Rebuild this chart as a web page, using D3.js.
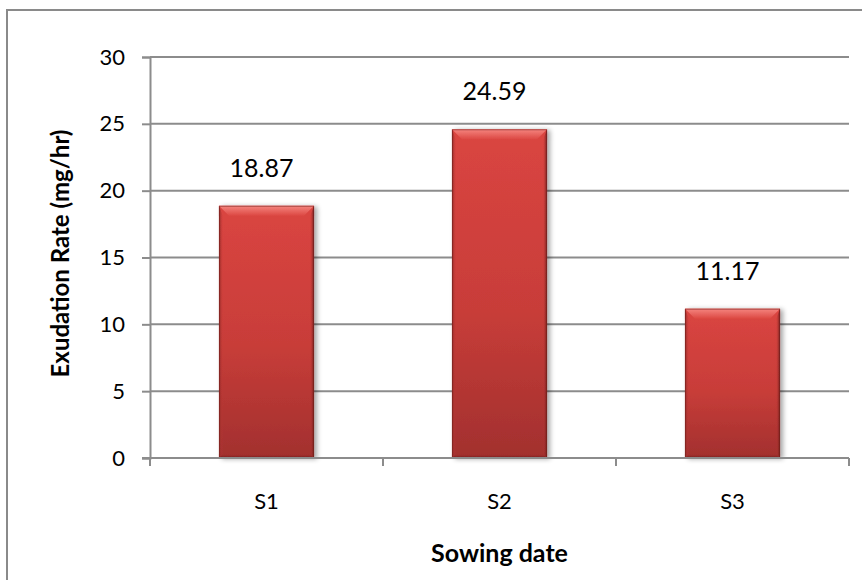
<!DOCTYPE html>
<html>
<head>
<meta charset="utf-8">
<script src="https://cdn.jsdelivr.net/npm/d3@7"></script>
<style>
  html, body { margin: 0; padding: 0; background: #fff; }
  svg { display: block; font-family: Lato, "Open Sans", sans-serif; }
</style>
</head>
<body>
<svg id="chart" width="862" height="580"></svg>
<script>
// Exudation rate by sowing date
const categories = ["S1", "S2", "S3"];
const values = [18.87, 24.59, 11.17];
const yTicks = [0, 5, 10, 15, 20, 25, 30];
const valueLabels = ["18.87", "24.59", "11.17"];

const svg = d3.select("#chart");
const W = 862, H = 580;
const plot = { left: 150, right: 849, top: 57, bottom: 458 };

// chart frame (runs past the right and bottom edges)
svg.append("rect")
  .attr("x", 7).attr("y", 10)
  .attr("width", W + 20).attr("height", H + 20)
  .attr("fill", "#fff").attr("stroke", "#8a8a8a").attr("stroke-width", 2);

const y = d3.scaleLinear().domain([0, 30]).range([plot.bottom, plot.top]);
const x = d3.scaleBand().domain(categories)
  .range([plot.left, plot.right])
  .paddingInner(0.592).paddingOuter(0.296);
const xEdge = d3.scaleLinear().domain([0, categories.length]).range([plot.left, plot.right]);

const defs = svg.append("defs");
const body = defs.append("linearGradient").attr("id", "barBody")
  .attr("x1", 0).attr("y1", 0).attr("x2", 0).attr("y2", 1);
body.append("stop").attr("offset", "0%").attr("stop-color", "#da4541");
body.append("stop").attr("offset", "55%").attr("stop-color", "#c83d39");
body.append("stop").attr("offset", "100%").attr("stop-color", "#a2302e");

const topBevel = defs.append("linearGradient").attr("id", "topBevel")
  .attr("x1", 0).attr("y1", 0).attr("x2", 0).attr("y2", 1);
topBevel.append("stop").attr("offset", "0%").attr("stop-color", "#f5857f");
topBevel.append("stop").attr("offset", "100%").attr("stop-color", "#dc4843");

const sideL = defs.append("linearGradient").attr("id", "sideL")
  .attr("x1", 0).attr("y1", 0).attr("x2", 1).attr("y2", 0);
sideL.append("stop").attr("offset", "0%").attr("stop-color", "#8e2826");
sideL.append("stop").attr("offset", "100%").attr("stop-color", "#c23b37").attr("stop-opacity", 0);
const sideR = defs.append("linearGradient").attr("id", "sideR")
  .attr("x1", 1).attr("y1", 0).attr("x2", 0).attr("y2", 0);
sideR.append("stop").attr("offset", "0%").attr("stop-color", "#6a1b1a");
sideR.append("stop").attr("offset", "100%").attr("stop-color", "#b83835").attr("stop-opacity", 0);
const botBevel = defs.append("linearGradient").attr("id", "botBevel")
  .attr("x1", 0).attr("y1", 1).attr("x2", 0).attr("y2", 0);
botBevel.append("stop").attr("offset", "0%").attr("stop-color", "#6a1b1a");
botBevel.append("stop").attr("offset", "100%").attr("stop-color", "#a53130").attr("stop-opacity", 0);

const shadow = defs.append("filter").attr("id", "barShadow")
  .attr("x", "-20%").attr("y", "-10%").attr("width", "140%").attr("height", "120%");
shadow.append("feGaussianBlur").attr("in", "SourceAlpha").attr("stdDeviation", 2.5).attr("result", "b");
shadow.append("feOffset").attr("in", "b").attr("dx", 3).attr("dy", 1).attr("result", "o");
shadow.append("feComponentTransfer").attr("in", "o").attr("result", "s")
  .append("feFuncA").attr("type", "linear").attr("slope", 0.35);
const merge = shadow.append("feMerge");
merge.append("feMergeNode").attr("in", "s");
merge.append("feMergeNode").attr("in", "SourceGraphic");

// horizontal gridlines
svg.append("g").selectAll("line").data(yTicks.filter(d => d > 0)).join("line")
  .attr("x1", plot.left).attr("x2", plot.right)
  .attr("y1", d => y(d)).attr("y2", d => y(d))
  .attr("stroke", "#8c8c8c").attr("stroke-width", 2);

// y axis
const yAxis = svg.append("g").attr("transform", `translate(${plot.left},0)`)
  .call(d3.axisLeft(y).tickValues(yTicks).tickSize(8).tickPadding(17).tickFormat(d3.format("d")));
yAxis.select(".domain").attr("stroke", "#8c8c8c").attr("stroke-width", 2);
yAxis.selectAll(".tick line").attr("stroke", "#8c8c8c").attr("stroke-width", 2);
yAxis.selectAll("text").attr("font-size", 22).attr("fill", "#000")
  .attr("font-family", "Lato, 'Open Sans', sans-serif");

// bars
const bars = svg.append("g").selectAll("g").data(values).join("g")
  .attr("filter", "url(#barShadow)");
bars.each(function (v, i) {
  const g = d3.select(this);
  const x0 = x(categories[i]), w = x.bandwidth();
  const y0 = y(v), h = y(0) - y(v);
  const bv = 10, sv = 4;
  g.append("rect").attr("x", x0).attr("y", y0).attr("width", w).attr("height", h)
    .attr("fill", "url(#barBody)");
  g.append("path")
    .attr("d", `M${x0},${y0}H${x0 + w}L${x0 + w - bv},${y0 + bv}H${x0 + bv}Z`)
    .attr("fill", "url(#topBevel)");
  g.append("path")
    .attr("d", `M${x0},${y0}L${x0 + sv},${y0 + bv}V${y0 + h - sv}L${x0},${y0 + h}Z`)
    .attr("fill", "url(#sideL)");
  g.append("path")
    .attr("d", `M${x0 + w},${y0}L${x0 + w - sv},${y0 + bv}V${y0 + h - sv}L${x0 + w},${y0 + h}Z`)
    .attr("fill", "url(#sideR)");
  g.append("path")
    .attr("d", `M${x0},${y0 + h}L${x0 + sv},${y0 + h - sv}H${x0 + w - sv}L${x0 + w},${y0 + h}Z`)
    .attr("fill", "url(#botBevel)");
  g.append("rect").attr("x", x0 + 0.5).attr("y", y0 + 0.5).attr("width", w - 1).attr("height", h - 1)
    .attr("fill", "none").attr("stroke", "#7a2120").attr("stroke-opacity", 0.6).attr("stroke-width", 1);
});

// x axis baseline and category boundary ticks
const xAxisG = svg.append("g").attr("transform", `translate(0,${plot.bottom})`);
xAxisG.append("line").attr("x1", plot.left - 8).attr("x2", plot.right)
  .attr("stroke", "#8c8c8c").attr("stroke-width", 2);
xAxisG.selectAll("line.tk").data(d3.range(categories.length + 1)).join("line")
  .attr("class", "tk")
  .attr("x1", d => xEdge(d)).attr("x2", d => xEdge(d))
  .attr("y1", 0).attr("y2", 8)
  .attr("stroke", "#8c8c8c").attr("stroke-width", 2);
xAxisG.selectAll("text").data(categories).join("text")
  .attr("x", d => x(d) + x.bandwidth() / 2).attr("y", 51)
  .attr("text-anchor", "middle").attr("font-size", 22).attr("fill", "#000")
  .text(d => d);

// value labels
svg.append("g").selectAll("text").data(values).join("text")
  .attr("x", (d, i) => x(categories[i]) + x.bandwidth() / 2 - 5)
  .attr("y", d => y(d) - 29)
  .attr("text-anchor", "middle").attr("font-size", 25).attr("fill", "#000")
  .text((d, i) => valueLabels[i]);

// axis titles
svg.append("text")
  .attr("transform", `translate(69,${(plot.top + plot.bottom) / 2 - 4}) rotate(-90)`)
  .attr("text-anchor", "middle").attr("font-size", 24).attr("font-weight", "bold")
  .attr("fill", "#000").text("Exudation Rate (mg/hr)");
svg.append("text")
  .attr("x", (plot.left + plot.right) / 2).attr("y", 562)
  .attr("text-anchor", "middle").attr("font-size", 25).attr("font-weight", "bold")
  .attr("fill", "#000").text("Sowing date");
</script>
</body>
</html>
